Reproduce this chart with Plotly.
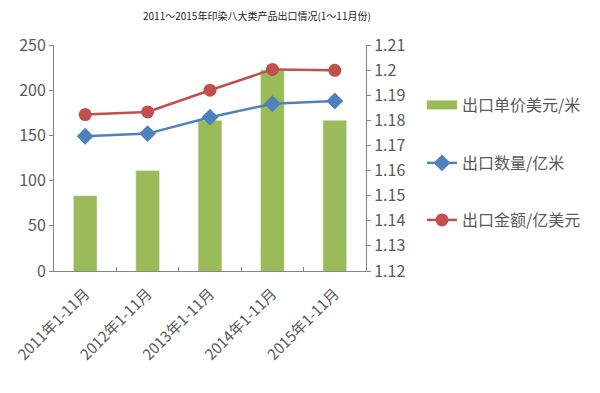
import plotly.graph_objects as go

categories = ["2011年1-11月", "2012年1-11月", "2013年1-11月", "2014年1-11月", "2015年1-11月"]
unit_price = [1.15, 1.16, 1.18, 1.20, 1.18]          # 出口单价美元/米 (right axis)
export_qty = [149, 152, 170, 185, 188]               # 出口数量/亿米 (left axis)
export_value = [173, 176, 200, 223, 222]             # 出口金额/亿美元 (left axis)
left_ticks = [0, 50, 100, 150, 200, 250]
right_ticks = [1.12, 1.13, 1.14, 1.15, 1.16, 1.17, 1.18, 1.19, 1.2, 1.21]

FONT = "Noto Sans CJK SC"
AXIS_COLOR = "#868686"
TEXT_COLOR = "#595959"
GREEN = "#9BBB59"

# page body has an 8px margin; figure is sized so the page fits 600x393
W, H = 584, 377

fig = go.Figure()
fig.add_trace(go.Bar(
    x=categories, y=unit_price, name="出口单价美元/米",
    marker=dict(color=GREEN), yaxis="y", showlegend=False,
))
# legend proxy so the key shows a wide flat swatch like the original
fig.add_trace(go.Scatter(
    x=[None], y=[None], name="出口单价美元/米", mode="lines",
    line=dict(color=GREEN, width=9), yaxis="y", legend="legend",
))
fig.add_trace(go.Scatter(
    x=categories, y=export_qty, name="出口数量/亿米", mode="lines+markers",
    line=dict(color="#4F81BD", width=2.5),
    marker=dict(symbol="diamond", size=13, color="#4F81BD"),
    yaxis="y2", legend="legend2",
))
fig.add_trace(go.Scatter(
    x=categories, y=export_value, name="出口金额/亿美元", mode="lines+markers",
    line=dict(color="#C0504D", width=2.5),
    marker=dict(symbol="circle", size=13, color="#C0504D"),
    yaxis="y2", legend="legend3",
))

legend_common = dict(xref="container", yref="container", x=414 / W, xanchor="left",
                     yanchor="middle", font=dict(family=FONT, size=16, color=TEXT_COLOR),
                     bgcolor="rgba(0,0,0,0)", itemwidth=30)

fig.update_layout(
    width=W, height=H,
    margin=dict(l=46, r=226, t=37, b=114, autoexpand=False),
    paper_bgcolor="white", plot_bgcolor="white",
    bargap=0.62,
    title=dict(text="2011～2015年印染八大类产品出口情况(1～11月份)", xref="container",
               x=135 / W, xanchor="left", yref="container",
               y=1 - 8 / H, yanchor="middle", pad=dict(t=0, b=0, l=0, r=0),
               font=dict(family=FONT, size=10, color="#222222")),
    xaxis=dict(showline=True, linecolor=AXIS_COLOR, linewidth=1, ticks="inside",
               tickson="boundaries", ticklen=4, tickcolor=AXIS_COLOR, tickangle=-45,
               automargin=False, ticklabelstandoff=7,
               tickfont=dict(family=FONT, size=15, color=TEXT_COLOR), showgrid=False),
    yaxis=dict(side="right", range=[1.12, 1.21], tickvals=right_ticks, showline=True,
               linecolor=AXIS_COLOR, ticks="outside", ticklen=4, tickcolor=AXIS_COLOR,
               automargin=False,
               tickfont=dict(family=FONT, size=16, color=TEXT_COLOR), showgrid=False,
               zeroline=False),
    yaxis2=dict(side="left", overlaying="y", range=[0, 250], tickvals=left_ticks,
                showline=True, linecolor=AXIS_COLOR, ticks="outside", ticklen=4,
                automargin=False,
                tickcolor=AXIS_COLOR, tickfont=dict(family=FONT, size=16, color=TEXT_COLOR),
                showgrid=False, zeroline=False),
    legend=dict(legend_common, y=1 - 97 / H),
    legend2=dict(legend_common, y=1 - 155 / H),
    legend3=dict(legend_common, y=1 - 212 / H),
    showlegend=True,
)

fig.write_html("out.html")
